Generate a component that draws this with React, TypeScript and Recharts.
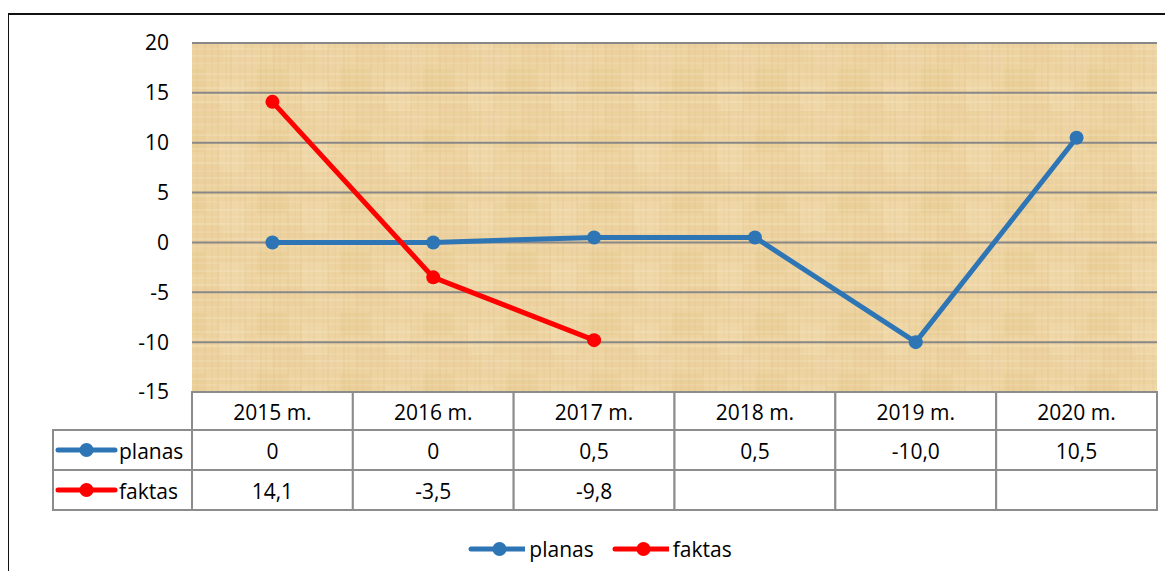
import React from 'react';
import { LineChart, Line, XAxis, YAxis, CartesianGrid, Legend } from 'recharts';

// Categories and series values
const categories = ['2015 m.', '2016 m.', '2017 m.', '2018 m.', '2019 m.', '2020 m.'];
const planasValues = [0, 0, 0.5, 0.5, -10.0, 10.5];
const faktasValues = [14.1, -3.5, -9.8, null, null, null];

// Labels shown in the data table under the plot
const planasLabels = ['0', '0', '0,5', '0,5', '-10,0', '10,5'];
const faktasLabels = ['14,1', '-3,5', '-9,8', '', '', ''];

const yTicks = [-15, -10, -5, 0, 5, 10, 15, 20];

const series = [
  { key: 'planas', name: 'planas', color: '#2E75B6', labels: planasLabels },
  { key: 'faktas', name: 'faktas', color: '#FF0000', labels: faktasLabels },
];

const data = categories.map((year, i) => ({
  year,
  planas: planasValues[i],
  faktas: faktasValues[i],
}));

const PLOT_WIDTH = 965;
const BAND = PLOT_WIDTH / categories.length;
const HEADER_H = 38;
const ROW_H = 40;
const BORDER = '#8c8c8c';
const FONT = '"Open Sans", sans-serif';
const FS = 21;

// Small legend key: line with a dot in the middle
const LegendKey = ({ x, y, color }: { x: number; y: number; color: string }) => (
  <g>
    <line x1={x} y1={y} x2={x + 57} y2={y} stroke={color} strokeWidth={5} strokeLinecap="round" />
    <circle cx={x + 28.5} cy={y} r={7} fill={color} />
  </g>
);

// Each x tick draws one column of the data table
const TableTick = (props: any) => {
  const { x, y, payload } = props;
  const i = categories.indexOf(payload.value);
  const left = x - BAND / 2;
  return (
    <g>
      <rect x={left} y={y} width={BAND} height={HEADER_H} fill="#fff" stroke={BORDER} strokeWidth={2} />
      <text x={x} y={y + HEADER_H / 2 + 1} textAnchor="middle" dominantBaseline="central" fill="#000" fontSize={FS}>
        {payload.value}
      </text>
      {series.map((s, r) => {
        const top = y + HEADER_H + r * ROW_H;
        return (
          <g key={s.key}>
            <rect x={left} y={top} width={BAND} height={ROW_H} fill="#fff" stroke={BORDER} strokeWidth={2} />
            <text x={x} y={top + ROW_H / 2 + 1} textAnchor="middle" dominantBaseline="central" fill="#000" fontSize={FS}>
              {s.labels[i]}
            </text>
          </g>
        );
      })}
      {i === 0 &&
        series.map((s, r) => {
          const top = y + HEADER_H + r * ROW_H;
          const cellLeft = left - 139;
          return (
            <g key={'leg' + s.key}>
              <rect x={cellLeft} y={top} width={139} height={ROW_H} fill="#fff" stroke={BORDER} strokeWidth={2} />
              <LegendKey x={cellLeft + 5} y={top + ROW_H / 2} color={s.color} />
              <text x={cellLeft + 66} y={top + ROW_H / 2 + 1} dominantBaseline="central" fill="#000" fontSize={FS}>
                {s.name}
              </text>
            </g>
          );
        })}
    </g>
  );
};

const renderLegend = () => (
  <div
    style={{
      display: 'flex',
      justifyContent: 'center',
      alignItems: 'center',
      paddingLeft: 27,
      fontFamily: FONT,
      fontSize: FS,
      color: '#000',
    }}
  >
    {series.map((s) => (
      <span key={s.key} style={{ display: 'flex', alignItems: 'center', margin: '0 9px' }}>
        <svg width={57} height={16} style={{ marginRight: 4 }}>
          <LegendKey x={3} y={8} color={s.color} />
        </svg>
        <span>{s.name}</span>
      </span>
    ))}
  </div>
);

// fibre lines of the papyrus texture
const fibreX = [4, 9, 17, 23, 31, 38, 44, 52, 57, 66, 71, 78];
const fibreY = [5, 11, 19, 26, 33, 41, 48, 55];

const App = () => {
  return (
    <div style={{ position: 'relative', width: 1157, height: 563, overflow: 'hidden', fontFamily: FONT }}>
      <div
        style={{
          position: 'absolute',
          left: -1,
          top: 5,
          width: 1300,
          height: 700,
          borderLeft: '2px solid #111',
          borderTop: '2px solid #111',
          boxSizing: 'border-box',
        }}
      />
      <LineChart
        width={1157}
        height={563}
        data={data}
        margin={{ top: 35, right: 8, left: 104, bottom: 59 }}
        style={{ position: 'absolute', left: 0, top: 0 }}
      >
        <defs>
          <pattern id="papyrus" width={83} height={61} patternUnits="userSpaceOnUse">
            <rect width={83} height={61} fill="#EDD3A0" />
            <rect x={0} y={0} width={30} height={22} fill="#E6C98A" opacity={0.3} />
            <rect x={45} y={12} width={26} height={30} fill="#F4E0B6" opacity={0.35} />
            <rect x={15} y={35} width={34} height={20} fill="#EBCB98" opacity={0.3} />
            <rect x={60} y={44} width={23} height={17} fill="#F0D2AC" opacity={0.35} />
            {fibreX.map((vx, k) => (
              <line key={'v' + vx} x1={vx} y1={0} x2={vx} y2={61} stroke="#C7A467" strokeWidth={1} opacity={k % 2 ? 0.12 : 0.2} />
            ))}
            {fibreY.map((hy, k) => (
              <line key={'h' + hy} x1={0} y1={hy} x2={83} y2={hy} stroke="#FAF0D6" strokeWidth={1} opacity={k % 2 ? 0.25 : 0.4} />
            ))}
          </pattern>
        </defs>
        <CartesianGrid vertical={false} stroke="#888" strokeWidth={2} fill="url(#papyrus)" />
        <XAxis
          dataKey="year"
          height={120}
          padding={{ left: BAND / 2, right: BAND / 2 }}
          axisLine={false}
          tickLine={false}
          tickSize={0}
          tickMargin={0}
          interval={0}
          tick={<TableTick />}
        />
        <YAxis
          width={80}
          domain={[-15, 20]}
          ticks={yTicks}
          axisLine={false}
          tickLine={false}
          tickSize={0}
          tickMargin={23}
          tick={{ fill: '#000', fontSize: FS }}
        />
        <Legend
          layout="horizontal"
          verticalAlign="middle"
          align="center"
          content={renderLegend}
          wrapperStyle={{ top: 527, left: 0, width: 1157 }}
        />
        {series.map((s) => (
          <Line
            key={s.key}
            dataKey={s.key}
            name={s.name}
            type="linear"
            stroke={s.color}
            strokeWidth={5}
            dot={{ r: 7, fill: s.color, stroke: s.color, strokeWidth: 0 }}
            activeDot={false}
            connectNulls={false}
            isAnimationActive={false}
          />
        ))}
      </LineChart>
    </div>
  );
};

export default App;
